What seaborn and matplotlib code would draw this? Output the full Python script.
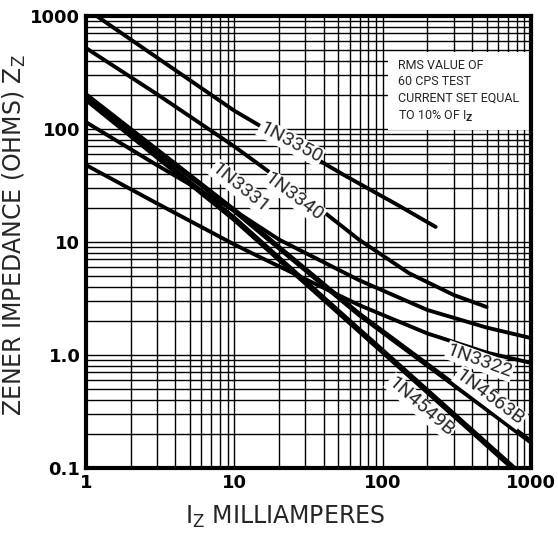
import numpy as np
import pandas as pd
import seaborn as sns
import matplotlib.pyplot as plt
from matplotlib.patches import Rectangle
from matplotlib.ticker import LogLocator, NullFormatter

# zener impedance vs. current
iz_3350 = [1.18, 3, 10, 20, 55, 128, 227]
zz_3350 = [1000, 430, 145, 85, 39, 21, 13.6]

iz_3340 = [1, 3, 10, 20, 41, 69, 150, 300, 500]
zz_3340 = [521, 204, 70, 36, 18, 10.5, 5.3, 3.4, 2.66]

iz_3331 = [1, 3, 10, 20, 69, 200, 500, 1000]
zz_3331 = [115, 48, 19, 10.5, 4.6, 2.5, 1.75, 1.41]

iz_3322 = [1, 3, 10, 14.7, 69, 200, 500, 1000]
zz_3322 = [48, 22, 9.5, 7.4, 2.77, 1.55, 1.05, 0.85]

iz_4563b = [1, 10, 69, 1000]
zz_4563b = [200, 19, 2.3, 0.17]

iz_4549b = [1, 10, 69, 757]
zz_4549b = [185, 16, 1.66, 0.1]

x_ticks = [1, 10, 100, 1000]
x_ticklabels = ["1", "10", "100", "1000"]
y_ticks = [0.1, 1, 10, 100, 1000]
y_ticklabels = ["0.1", "1.0", "10", "100", "1000"]

# curve labels: text, x, y, angle
labels = [
    ("1N3350", 24, 76, -28),
    ("1N3340", 25.3, 25, -37),
    ("1N3331", 11.0, 30, -39),
    ("1N3322", 450, 0.88, -20),
    ("1N4563B", 525, 0.42, -37),
    ("1N4549B", 180, 0.35, -41),
]

note = "RMS VALUE OF\n60 CPS TEST\nCURRENT SET EQUAL\nTO 10% OF I$_\\mathbf{Z}$"

sns.set_theme(style="white")
plt.rcParams["font.family"] = ["DejaVu Sans"]
narrow = ["Liberation Sans Narrow", "DejaVu Sans Condensed", "Roboto", "DejaVu Sans"]

fig = plt.figure(figsize=(5.58, 5.33), dpi=100)
ax = fig.add_axes([0.154, 0.122, 0.798, 0.848])

curves = [
    (iz_3350, zz_3350, 2.8),
    (iz_3340, zz_3340, 2.8),
    (iz_3331, zz_3331, 2.8),
    (iz_3322, zz_3322, 2.8),
    (iz_4563b, zz_4563b, 3.8),
    (iz_4549b, zz_4549b, 4.2),
]
for xs, ys, lw in curves:
    df = pd.DataFrame({"iz": xs, "zz": ys})
    sns.lineplot(data=df, x="iz", y="zz", ax=ax, color="black", lw=lw,
                 sort=False, estimator=None, zorder=3)

ax.set_xscale("log")
ax.set_yscale("log")
ax.set_xlim(1, 1000)
ax.set_ylim(0.1, 1000)

ax.xaxis.set_minor_locator(LogLocator(base=10, subs=np.arange(2, 10)))
ax.yaxis.set_minor_locator(LogLocator(base=10, subs=np.arange(2, 10)))
ax.xaxis.set_minor_formatter(NullFormatter())
ax.yaxis.set_minor_formatter(NullFormatter())
ax.grid(which="both", color="black", lw=1.0)
ax.set_axisbelow(True)

ax.set_xticks(x_ticks)
ax.set_xticklabels(x_ticklabels)
ax.set_yticks(y_ticks)
ax.set_yticklabels(y_ticklabels)
ax.tick_params(which="both", length=0, labelsize=13, colors="black", pad=4)
for t in ax.get_xticklabels() + ax.get_yticklabels():
    t.set_fontweight("bold")

for s in ax.spines.values():
    s.set_color("black")
    s.set_linewidth(3)

ax.set_xlabel(r"I$_\mathregular{Z}$ MILLIAMPERES", fontsize=17)
ax.xaxis.set_label_coords(0.447, -0.08)
ax.set_ylabel(r"ZENER IMPEDANCE (OHMS) Z$_\mathregular{Z}$", fontsize=17)
ax.yaxis.set_label_coords(-0.13, 0.515)

for txt, x, y, ang in labels:
    ax.text(x, y, txt, rotation=ang, rotation_mode="anchor", ha="center",
            va="center", fontsize=14, family=narrow, zorder=4,
            bbox=dict(facecolor="white", edgecolor="none", pad=0.5))

ax.add_patch(Rectangle((0.679, 0.748), 0.319, 0.172, transform=ax.transAxes,
                       facecolor="white", edgecolor="none", zorder=2.5))
box_txt = ax.text(0.70, 0.905, note, transform=ax.transAxes, ha="left",
                  va="top", fontsize=10.5, family=narrow, linespacing=1.35,
                  zorder=4)

# shrink the note so its widest line fits the white box (~122 px)
fig.canvas.draw()
w = box_txt.get_window_extent().width
if w > 122:
    box_txt.set_fontsize(10.5 * 122 / w)

fig.savefig("out.png", dpi=100)
